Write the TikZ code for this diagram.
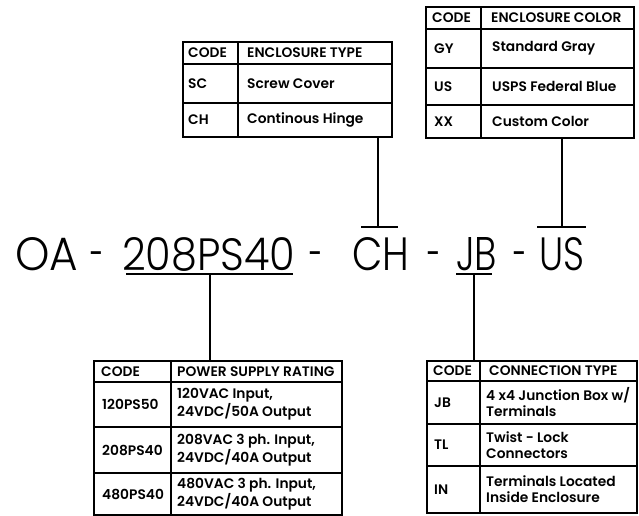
\documentclass[tikz,border=0pt]{standalone}
\usepackage{fontspec}
\setmainfont{Poppins}
\newfontfamily\lightfont{Poppins}[UprightFont={* Light}]
\newfontfamily\tabfont{Poppins}[UprightFont={* SemiBold}]
\newcommand\tcell[7]{%
  \node[cellbox, minimum width=#4pt, minimum height=#5pt] (#1) at (#2,#3) {};
  \node[celltext] (#1t) at ([xshift=#6pt]#1.west) {#7};}
\newcommand\bigpart[4]{\node[bigtext] (#1) at (#2,270) {\resizebox{#3pt}{33pt}{#4}};}
\begin{document}
\begin{tikzpicture}[x=1pt,y=-1pt,
  cellbox/.style={draw, line width=1.8pt, anchor=north west, inner sep=0pt, outer sep=0pt},
  celltext/.style={anchor=west, align=left, inner sep=0pt, font=\tabfont\fontsize{13.8}{16}\selectfont},
  bigtext/.style={anchor=base west, inner sep=0pt, font=\lightfont\fontsize{47}{47}\selectfont},
  dashtext/.style={anchor=base, inner sep=0pt, font=\lightfont\fontsize{47}{47}\selectfont},
  conn/.style={line width=2.4pt}]
\useasboundingbox (0,0) rectangle (639,516);
% Enclosure type
\tcell{t1h1}{183}{42}{55}{22}{5}{CODE}
\tcell{t1h2}{238}{42}{154}{22}{9}{ENCLOSURE TYPE}
\tcell{t1c1}{183}{64}{55}{39}{5}{SC}
\tcell{t1d1}{238}{64}{154}{39}{9}{Screw Cover}
\tcell{t1c2}{183}{103}{55}{34}{5}{CH}
\tcell{t1d2}{238}{103}{154}{34}{9}{Continous Hinge}
% Enclosure color
\tcell{t2h1}{426}{7}{55}{22}{6}{CODE}
\tcell{t2h2}{481}{7}{153}{22}{10}{ENCLOSURE COLOR}
\tcell{t2c1}{426}{29}{55}{39}{8}{GY}
\tcell{t2d1}{481}{29}{153}{39}{11}{Standard Gray}
\tcell{t2c2}{426}{68}{55}{37}{8}{US}
\tcell{t2d2}{481}{68}{153}{37}{11}{USPS Federal Blue}
\tcell{t2c3}{426}{105}{55}{33}{8}{XX}
\tcell{t2d3}{481}{105}{153}{33}{11}{Custom Color}
% Power supply
\tcell{t3h1}{94}{361}{77}{21}{7}{CODE}
\tcell{t3h2}{171}{361}{171}{21}{6}{POWER SUPPLY RATING}
\tcell{t3c1}{94}{382}{77}{45}{8}{120PS50}
\tcell{t3d1}{171}{382}{171}{45}{6}{120VAC Input,\\24VDC/50A Output}
\tcell{t3c2}{94}{427}{77}{46}{8}{208PS40}
\tcell{t3d2}{171}{427}{171}{46}{6}{208VAC 3 ph. Input,\\24VDC/40A Output}
\tcell{t3c3}{94}{473}{77}{42}{8}{480PS40}
\tcell{t3d3}{171}{473}{171}{42}{6}{480VAC 3 ph. Input,\\24VDC/40A Output}
% Connection type
\tcell{t4h1}{427}{361}{53}{20}{6}{CODE}
\tcell{t4h2}{480}{361}{157}{20}{9}{CONNECTION TYPE}
\tcell{t4c1}{427}{381}{53}{43}{7}{JB}
\tcell{t4d1}{480}{381}{157}{43}{6}{4 x4 Junction Box w/\\Terminals}
\tcell{t4c2}{427}{424}{53}{42}{7}{TL}
\tcell{t4d2}{480}{424}{157}{42}{6}{Twist - Lock\\Connectors}
\tcell{t4c3}{427}{466}{53}{47}{7}{IN}
\tcell{t4d3}{480}{466}{157}{47}{6}{Terminals Located\\Inside Enclosure}
% Part number
\bigpart{oa}{15}{63}{OA}
\node[dashtext] (d1) at (97.5,270) {\scalebox{0.55}[1]{-}};
\bigpart{ps}{122}{173}{208PS40}
\node[dashtext] (d2) at (316.5,270) {\scalebox{0.55}[1]{-}};
\bigpart{ch}{352}{57}{CH}
\node[dashtext] (d3) at (434.5,270) {\scalebox{0.55}[1]{-}};
\bigpart{jb}{456}{41}{JB}
\node[dashtext] (d4) at (520,270) {\scalebox{0.55}[1]{-}};
\bigpart{us}{539}{45}{US}
% connectors
\coordinate (chT) at (378,227);
\coordinate (chL) at (361,227);
\coordinate (chR) at (398,227);
\coordinate (usT) at (562,227);
\coordinate (usL) at (537,227);
\coordinate (usR) at (586,227);
\coordinate (psU) at (210,274);
\coordinate (psL) at (126,274);
\coordinate (psR) at (293,274);
\coordinate (jbU) at (474,274);
\coordinate (jbL) at (456,274);
\coordinate (jbR) at (492,274);
\draw[conn] (t1d2.south -| chT) -- (chT);
\draw[conn] (chL) -- (chR);
\draw[conn] (t2d3.south -| usT) -- (usT);
\draw[conn] (usL) -- (usR);
\draw[conn] (psL) -- (psR);
\draw[conn] (psU) -- (psU |- t3h2.north);
\draw[conn] (jbL) -- (jbR);
\draw[conn] (jbU) -- (jbU |- t4h1.north);
\end{tikzpicture}
\end{document}
